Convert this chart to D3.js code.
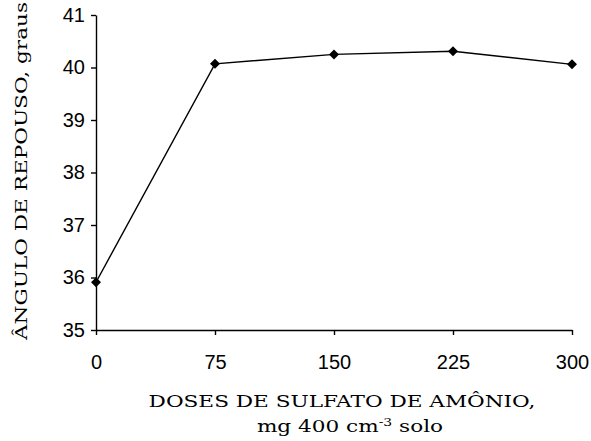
<!DOCTYPE html>
<html>
<head>
<meta charset="utf-8">
<script src="https://cdn.jsdelivr.net/npm/d3@7"></script>
<style>
  body { margin: 0; background: #fff; }
  svg { display: block; }
</style>
</head>
<body>
<div id="vis"></div>
<script>
// doses de sulfato de amonio (mg 400 cm-3 solo)
var doses = [0, 75, 150, 225, 300];
// angulo de repouso, graus
var angulo = [35.91, 40.07, 40.25, 40.31, 40.06];
var xTicks = [0, 75, 150, 225, 300];
var yTicks = [35, 36, 37, 38, 39, 40, 41];

var W = 591, H = 441;
var margin = {left: 96, right: 19, top: 15, bottom: 111};

var svg = d3.select("#vis").append("svg")
  .attr("width", W).attr("height", H);

var x = d3.scaleLinear().domain([0, 300]).range([margin.left, W - margin.right]);
var y = d3.scaleLinear().domain([35, 41]).range([H - margin.bottom, margin.top]);

var tickFont = "'Liberation Sans', Arial, sans-serif";

// y axis
var gy = svg.append("g")
  .attr("transform", "translate(" + margin.left + ",0)")
  .call(d3.axisLeft(y).tickValues(yTicks).tickSize(5).tickSizeOuter(0).tickPadding(6).tickFormat(d3.format("d")));
// x axis
var gx = svg.append("g")
  .attr("transform", "translate(0," + y(35) + ")")
  .call(d3.axisBottom(x).tickValues(xTicks).tickSize(5).tickSizeOuter(0).tickPadding(20).tickFormat(d3.format("d")));

[gx, gy].forEach(function(g) {
  g.attr("font-family", null).attr("font-size", null);
  g.select(".domain").attr("stroke", "#000").attr("stroke-width", 1.4);
  g.selectAll(".tick line").attr("stroke", "#000").attr("stroke-width", 1.4);
  g.selectAll(".tick text").attr("fill", "#000")
    .style("font-family", tickFont).style("font-size", "20px");
});

// line
var line = d3.line()
  .x(function(d, i) { return x(doses[i]); })
  .y(function(d) { return y(d); });

svg.append("path")
  .datum(angulo)
  .attr("fill", "none")
  .attr("stroke", "#000")
  .attr("stroke-width", 1.4)
  .attr("d", line);

// diamond markers
svg.selectAll(".pt")
  .data(angulo)
  .enter().append("path")
  .attr("class", "pt")
  .attr("transform", function(d, i) { return "translate(" + x(doses[i]) + "," + y(d) + ")"; })
  .attr("d", "M0,-5L5,0L0,5L-5,0Z")
  .attr("fill", "#000");

// axis titles (wide serif -> stretch DejaVu Serif horizontally)
var serif = "'DejaVu Serif', serif";
var stretch = 1.27;

svg.append("g")
  .attr("transform", "translate(342,407) scale(" + stretch + ",1)")
  .append("text")
  .attr("text-anchor", "middle")
  .style("font-family", serif).style("font-size", "17px")
  .text("DOSES DE SULFATO DE AMÔNIO,");

var xt2 = svg.append("g")
  .attr("transform", "translate(350,432) scale(" + stretch + ",1)")
  .append("text")
  .attr("text-anchor", "middle")
  .style("font-family", serif).style("font-size", "17px");
xt2.append("tspan").text("mg 400 cm");
xt2.append("tspan").attr("dy", -6).style("font-size", "11px").text("-3");
xt2.append("tspan").attr("dy", 6).text(" solo");

svg.append("g")
  .attr("transform", "translate(27,171) rotate(-90) scale(" + stretch + ",1)")
  .append("text")
  .attr("text-anchor", "middle")
  .style("font-family", serif).style("font-size", "17px")
  .text("ÂNGULO DE REPOUSO, graus");
</script>
</body>
</html>
